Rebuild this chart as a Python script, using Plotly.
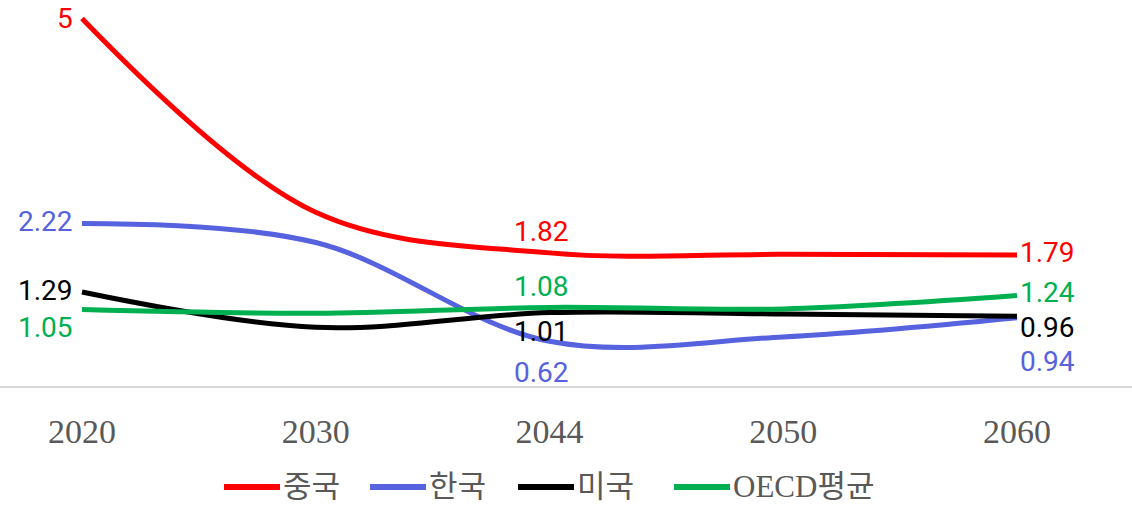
import plotly.graph_objects as go

# Categories (years) and series values
years = ["2020", "2030", "2044", "2050", "2060"]
series_names = ["중국", "한국", "미국", "OECD평균"]
china = [5.00, 2.37, 1.82, 1.80, 1.79]
korea = [2.22, 1.96, 0.62, 0.68, 0.94]
usa = [1.29, 0.81, 1.01, 0.99, 0.96]
oecd = [1.05, 1.00, 1.08, 1.06, 1.24]
labeled_idx = [0, 2, 4]

values = [china, korea, usa, oecd]
colors = ["#FF0000", "#5662DE", "#000000", "#00B050"]

W, H = 1132, 505
M_L, M_R, M_T, M_B = 0, 0, 0, 118
plot_h = H - M_T - M_B

# Per-series value label offsets (px) at the labeled points: (xshift, yshift)
label_offsets = {
    "중국": {0: (-8, 0), 2: (-8, 21), 4: (2, 3)},
    "한국": {0: (-8, 2), 2: (-8, -31), 4: (2, -44)},
    "미국": {0: (-8, 1), 2: (-8, -19), 4: (2, -11)},
    "OECD평균": {0: (-8, -18), 2: (-8, 21), 4: (2, 3)},
}
anchors = {0: "right", 2: "center", 4: "left"}

fig = go.Figure()
for name, vals, col in zip(series_names, values, colors):
    fig.add_trace(go.Scatter(
        x=years, y=vals, name=name, mode="lines",
        line=dict(color=col, width=5, shape="spline", smoothing=1.0),
        showlegend=False, hoverinfo="skip",
    ))

annotations = []
for name, vals, col in zip(series_names, values, colors):
    for i in labeled_idx:
        dx, dy = label_offsets[name][i]
        v = vals[i]
        # category index position on the x axis
        annotations.append(dict(
            x=i, y=v, xref="x", yref="y", text=f"{v:g}", showarrow=False,
            xanchor=anchors[i], yanchor="middle", xshift=dx, yshift=dy,
            borderpad=0,
            font=dict(family="Roboto, Noto Sans, sans-serif", size=28, color=col),
        ))

# Manual legend along the bottom: line swatch + label
legend_y_px = 487
legend_y = (plot_h - (legend_y_px - M_T)) / plot_h
legend_starts = [224, 370, 518, 674]
swatch_len = 56
shapes = []
for name, col, x0 in zip(series_names, colors, legend_starts):
    shapes.append(dict(
        type="line", xref="paper", yref="paper",
        x0=x0 / W, x1=(x0 + swatch_len) / W, y0=legend_y, y1=legend_y,
        line=dict(color=col, width=6),
    ))
    annotations.append(dict(
        x=(x0 + swatch_len + 2) / W, y=legend_y, xref="paper", yref="paper",
        text=name, showarrow=False, xanchor="left", yanchor="middle",
        borderpad=0,
        font=dict(family="Liberation Serif, Noto Sans CJK KR, serif", size=31, color="#595959"),
    ))

step = 233.75
x0_px = 82
fig.update_layout(
    width=W, height=H,
    margin=dict(l=M_L, r=M_R, t=M_T, b=M_B, pad=0),
    paper_bgcolor="white", plot_bgcolor="white",
    xaxis=dict(
        type="category", range=[-x0_px / step, (W - x0_px) / step],
        showgrid=False, zeroline=False, showline=False,
        ticks="", ticklabelstandoff=21,
        tickfont=dict(family="Liberation Serif, DejaVu Serif, serif", size=34, color="#595959"),
    ),
    yaxis=dict(
        range=[0, plot_h / 73.7], showgrid=False, zeroline=True,
        zerolinecolor="#D9D9D9", zerolinewidth=1.5,
        showticklabels=False, showline=False, ticks="",
    ),
    annotations=annotations,
    shapes=shapes,
)

fig.write_html("out.html")
